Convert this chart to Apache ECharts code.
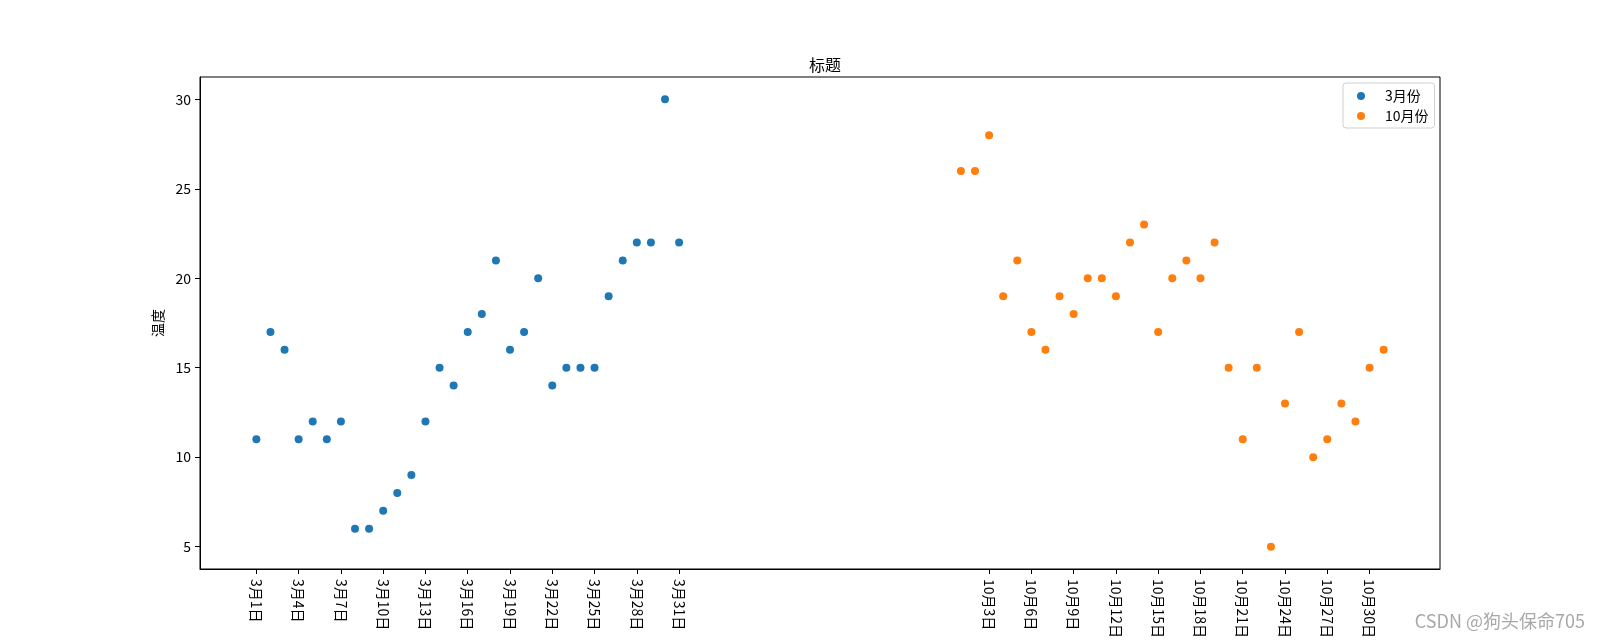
<!DOCTYPE html>
<html>
<head>
<meta charset="utf-8">
<script src="https://cdn.jsdelivr.net/npm/echarts@6/dist/echarts.min.js"></script>
<style>html,body{margin:0;padding:0;background:#fff}#c{width:1600px;height:640px}</style>
</head>
<body>
<div id="c"></div>
<script>
// March days plotted at x = 1..31, October days at x = 51..81
const marchDays = [1,2,3,4,5,6,7,8,9,10,11,12,13,14,15,16,17,18,19,20,21,22,23,24,25,26,27,28,29,30,31];
const marchTemps = [11,17,16,11,12,11,12,6,6,7,8,9,12,15,14,17,18,21,16,17,20,14,15,15,15,19,21,22,22,30,22];
const octDays = [1,2,3,4,5,6,7,8,9,10,11,12,13,14,15,16,17,18,19,20,21,22,23,24,25,26,27,28,29,30,31];
const octTemps = [26,26,28,19,21,17,16,19,18,20,20,19,22,23,17,20,21,20,22,15,11,15,5,13,17,10,11,13,12,15,16];
const octOffset = 50;
const xTickPositions = [1,4,7,10,13,16,19,22,25,28,31,53,56,59,62,65,68,71,74,77,80];
const yTicks = [5,10,15,20,25,30];
const seriesNames = ['3月份','10月份'];

const labelFor = v => v <= 31 ? ('3月' + v + '日') : ('10月' + (v - octOffset) + '日');
const marchData = marchDays.map((d,i) => [d, marchTemps[i]]);
const octData = octDays.map((d,i) => [d + octOffset, octTemps[i]]);

const FONT = '"Noto Sans CJK SC", "DejaVu Sans", sans-serif';
const chart = echarts.init(document.getElementById('c'), null, {renderer:'canvas'});
chart.setOption({
  animation: false,
  backgroundColor: '#fff',
  textStyle: {fontFamily: FONT},
  title: {
    text: '标题', left: 820, top: 52, textAlign: 'center',
    textStyle: {fontFamily: FONT, fontSize: 16, fontWeight: 'normal', color: '#000'}
  },
  legend: {
    orient: 'vertical', left: 1343, top: 83,
    padding: [5, 6, 4, 14], itemGap: 4,
    itemWidth: 8, itemHeight: 8, icon: 'circle',
    borderColor: '#d0d0d0', borderWidth: 1, borderRadius: 3,
    textStyle: {fontFamily: FONT, fontSize: 14, color: '#000', lineHeight: 16, padding: [0, 0, 0, 15]},
    data: seriesNames
  },
  grid: {left: 200, right: 160, top: 77, bottom: 71, show: true, borderColor: '#000', borderWidth: 1,
         containLabel: false, outerBoundsMode: 'none'},
  xAxis: {
    type: 'value', min: -3, max: 85,
    name: '时间', nameLocation: 'middle', nameGap: 69,
    nameTextStyle: {fontFamily: FONT, fontSize: 14, color: '#000', verticalAlign: 'top'},
    splitLine: {show: false},
    axisLine: {show: true, onZero: false, lineStyle: {color: '#000', width: 1}},
    axisTick: {show: true, length: 5, lineStyle: {color: '#000'}, customValues: xTickPositions},
    axisLabel: {
      customValues: xTickPositions, rotate: -90, margin: 10,
      fontFamily: FONT, fontSize: 14, color: '#000',
      formatter: v => labelFor(v)
    }
  },
  yAxis: {
    type: 'value', min: 3.75, max: 31.25,
    name: '温度', nameLocation: 'middle', nameGap: 30, nameRotate: 90,
    nameTextStyle: {fontFamily: FONT, fontSize: 14, color: '#000'},
    splitLine: {show: false},
    axisLine: {show: true, onZero: false, lineStyle: {color: '#000', width: 1}},
    axisTick: {show: true, length: 5, lineStyle: {color: '#000'}, customValues: yTicks},
    axisLabel: {customValues: yTicks, margin: 9, fontFamily: FONT, fontSize: 14, color: '#000'}
  },
  graphic: [{
    type: 'text', right: 15, top: 612,
    style: {text: 'CSDN @狗头保命705', font: '18px ' + FONT, fill: '#a8a8a8'}
  }],
  series: [
    {name: seriesNames[0], type: 'scatter', data: marchData, symbolSize: 8, itemStyle: {color: '#1f77b4', opacity: 1}},
    {name: seriesNames[1], type: 'scatter', data: octData, symbolSize: 8, itemStyle: {color: '#ff7f0e', opacity: 1}}
  ]
});
</script>
</body>
</html>
